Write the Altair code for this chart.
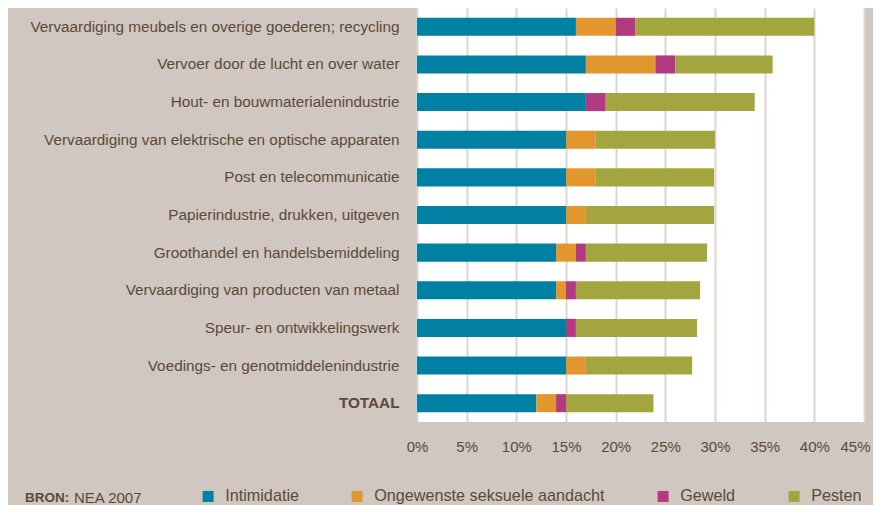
import altair as alt
import pandas as pd

categories = [
    "Vervaardiging meubels en overige goederen; recycling",
    "Vervoer door de lucht en over water",
    "Hout- en bouwmaterialenindustrie",
    "Vervaardiging van elektrische en optische apparaten",
    "Post en telecommunicatie",
    "Papierindustrie, drukken, uitgeven",
    "Groothandel en handelsbemiddeling",
    "Vervaardiging van producten van metaal",
    "Speur- en ontwikkelingswerk",
    "Voedings- en genotmiddelenindustrie",
    "TOTAAL",
]
series = ["Intimidatie", "Ongewenste seksuele aandacht", "Geweld", "Pesten"]
intimidatie = [16, 17, 17, 15, 15, 15, 14, 14, 15, 15, 12]
ongewenste = [4, 7, 0, 3, 3, 2, 2, 1, 0, 2, 2]
geweld = [2, 2, 2, 0, 0, 0, 1, 1, 1, 0, 1]
pesten = [18, 9.8, 15, 12, 11.9, 12.9, 12.2, 12.5, 12.2, 10.7, 8.8]
colors = ["#0081a3", "#e1962e", "#b13a80", "#a3a63e"]
ticks = [0, 5, 10, 15, 20, 25, 30, 35, 40, 45]

rows = []
for s_i, (name, vals) in enumerate(zip(series, [intimidatie, ongewenste, geweld, pesten])):
    for c, v in zip(categories, vals):
        rows.append({"sector": c, "type": name, "value": v / 100, "ord": s_i})
df = pd.DataFrame(rows)

TXT = "#5b4a37"
FONT = "Liberation Sans"

bars = alt.Chart(df).mark_bar().encode(
    y=alt.Y("sector:N", sort=categories, title=None,
            scale=alt.Scale(paddingInner=0.52, paddingOuter=0.26),
            axis=alt.Axis(domain=False, ticks=False, labelPadding=18,
                          labelFontSize=15.3, labelColor=TXT, labelFont=FONT,
                          labelLimit=500,
                          labelFontWeight=alt.condition("datum.label == 'TOTAAL'",
                                                        alt.value("bold"), alt.value("normal")))),
    x=alt.X("sum(value):Q", title=None, stack="zero",
            scale=alt.Scale(domain=[0, 0.45], nice=False),
            axis=alt.Axis(values=[t / 100 for t in ticks], format=".0%", domain=False,
                          ticks=False, labelPadding=17, labelFontSize=15,
                          labelFlush=False, labelOverlap=False,
                          labelOffset=alt.condition("datum.value > 0.44",
                                                    alt.value(-9), alt.value(0)),
                          labelColor=TXT, labelFont=FONT, grid=True,
                          gridColor="#dcd5cf", gridWidth=2)),
    color=alt.Color("type:N", sort=series,
                    scale=alt.Scale(domain=series, range=colors),
                    legend=alt.Legend(title=None, orient="none", direction="horizontal",
                                      legendX=-217, legendY=480,
                                      symbolType="square", symbolSize=121,
                                      symbolStrokeWidth=0, symbolOpacity=1,
                                      labelFontSize=16.2, labelColor=TXT, labelFont=FONT,
                                      labelOffset=9, columnPadding=50,
                                      labelLimit=400)),
    order=alt.Order("ord:Q"),
)

note_df = pd.DataFrame({"t": ["BRON:"]})
bron = alt.Chart(note_df).mark_text(align="left", baseline="middle", fontSize=13.5,
                                    font=FONT, fontWeight="bold", color=TXT).encode(
    x=alt.value(-392), y=alt.value(490), text="t:N")
nea_df = pd.DataFrame({"t": ["NEA 2007"]})
nea = alt.Chart(nea_df).mark_text(align="left", baseline="middle", fontSize=15,
                                  font=FONT, color=TXT).encode(
    x=alt.value(-343), y=alt.value(490), text="t:N")

chart = alt.layer(bars, bron, nea).properties(
    width=447, height=414,
    background="#d0c7c0",
    autosize=alt.AutoSizeParams(type="none"),
    padding={"left": 409, "top": 0, "right": 9, "bottom": 83},
).configure_view(fill="white", stroke=None)

chart.save("out.html", embed_options={"renderer": "svg", "actions": False})
